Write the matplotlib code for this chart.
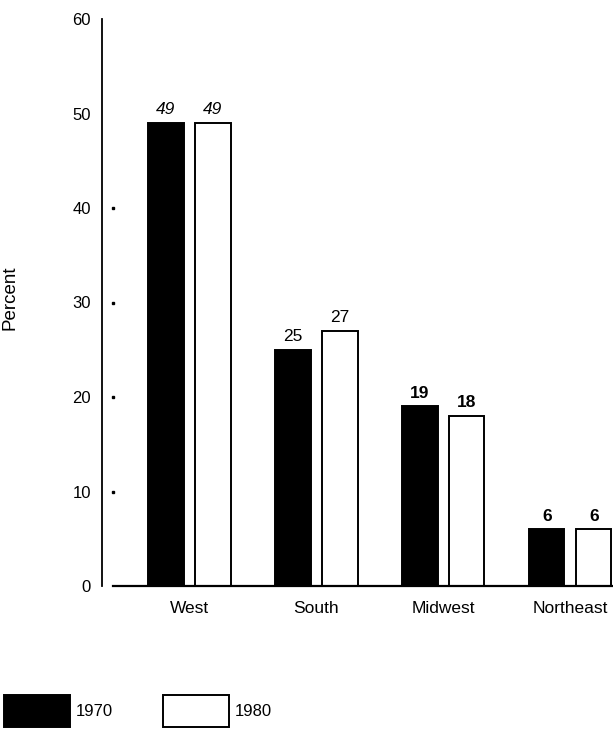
"""Regional share bar chart, 1970 vs 1980."""

import matplotlib
matplotlib.use("Agg")
import matplotlib.pyplot as plt
from matplotlib.patches import Patch
import numpy as np


regions = ["West", "South", "Midwest", "Northeast"]
share_1970 = [49, 25, 19, 6]
share_1980 = [49, 27, 18, 6]
label_styles = ["italic", "normal", "bold", "bold"]  # how the printed numbers look per group
y_ticks = [0, 10, 20, 30, 40, 50, 60]
dot_ticks = [10, 20, 30, 40]

plt.rcParams["font.family"] = ["Liberation Sans", "DejaVu Sans"]

W, H = 613, 729
fig = plt.figure(figsize=(W / 100, H / 100), dpi=100)
ax = fig.add_axes([102 / W, (H - 586) / H, 511 / W, 567 / H])

x = np.arange(len(regions))
offset = 0.185
width = 0.276
lw = 1.4

bars70 = ax.bar(x - offset, share_1970, width, color="black", edgecolor="black", linewidth=lw)
bars80 = ax.bar(x + offset, share_1980, width, color="white", edgecolor="black", linewidth=lw)

for bars, values in ((bars70, share_1970), (bars80, share_1980)):
    for bar, val, style in zip(bars, values, label_styles):
        weight = "bold" if style == "bold" else "normal"
        fstyle = "italic" if style == "italic" else "normal"
        ax.text(bar.get_x() + bar.get_width() / 2, val + 0.6, str(val),
                ha="center", va="bottom", fontsize=12.5,
                fontweight=weight, fontstyle=fstyle)

ax.set_xlim(-0.689, 3.335)
ax.set_ylim(0, 60)

# axes styling
for side in ("top", "right", "bottom"):
    ax.spines[side].set_visible(False)
ax.spines["left"].set_linewidth(1.3)
ax.axhline(0, xmin=11 / 511, xmax=1, color="black", linewidth=1.6, clip_on=False)
ax.plot([11 / 511] * len(dot_ticks), dot_ticks, linestyle="none", marker="s",
        markersize=1.5, color="black", transform=ax.get_yaxis_transform())

ax.set_yticks(y_ticks)
ax.tick_params(axis="y", length=0, pad=8, labelsize=12)
ax.set_xticks(x)
ax.set_xticklabels(regions)
ax.tick_params(axis="x", length=0, pad=11, labelsize=12.5)

ax.set_ylabel("Percent", fontsize=13.5)
ax.yaxis.set_label_coords(-0.164, 0.508)

handles = [Patch(facecolor="black", edgecolor="black", linewidth=lw, label="1970"),
           Patch(facecolor="white", edgecolor="black", linewidth=lw, label="1980")]
fig.legend(handles=handles, loc="center left", bbox_to_anchor=(4 / W, (H - 711) / H),
           ncol=2, frameon=False, fontsize=12, handlelength=3.95, handleheight=2.6,
           handletextpad=0.36, columnspacing=3.0, borderpad=0, borderaxespad=0)

fig.savefig("out.png", dpi=100)
